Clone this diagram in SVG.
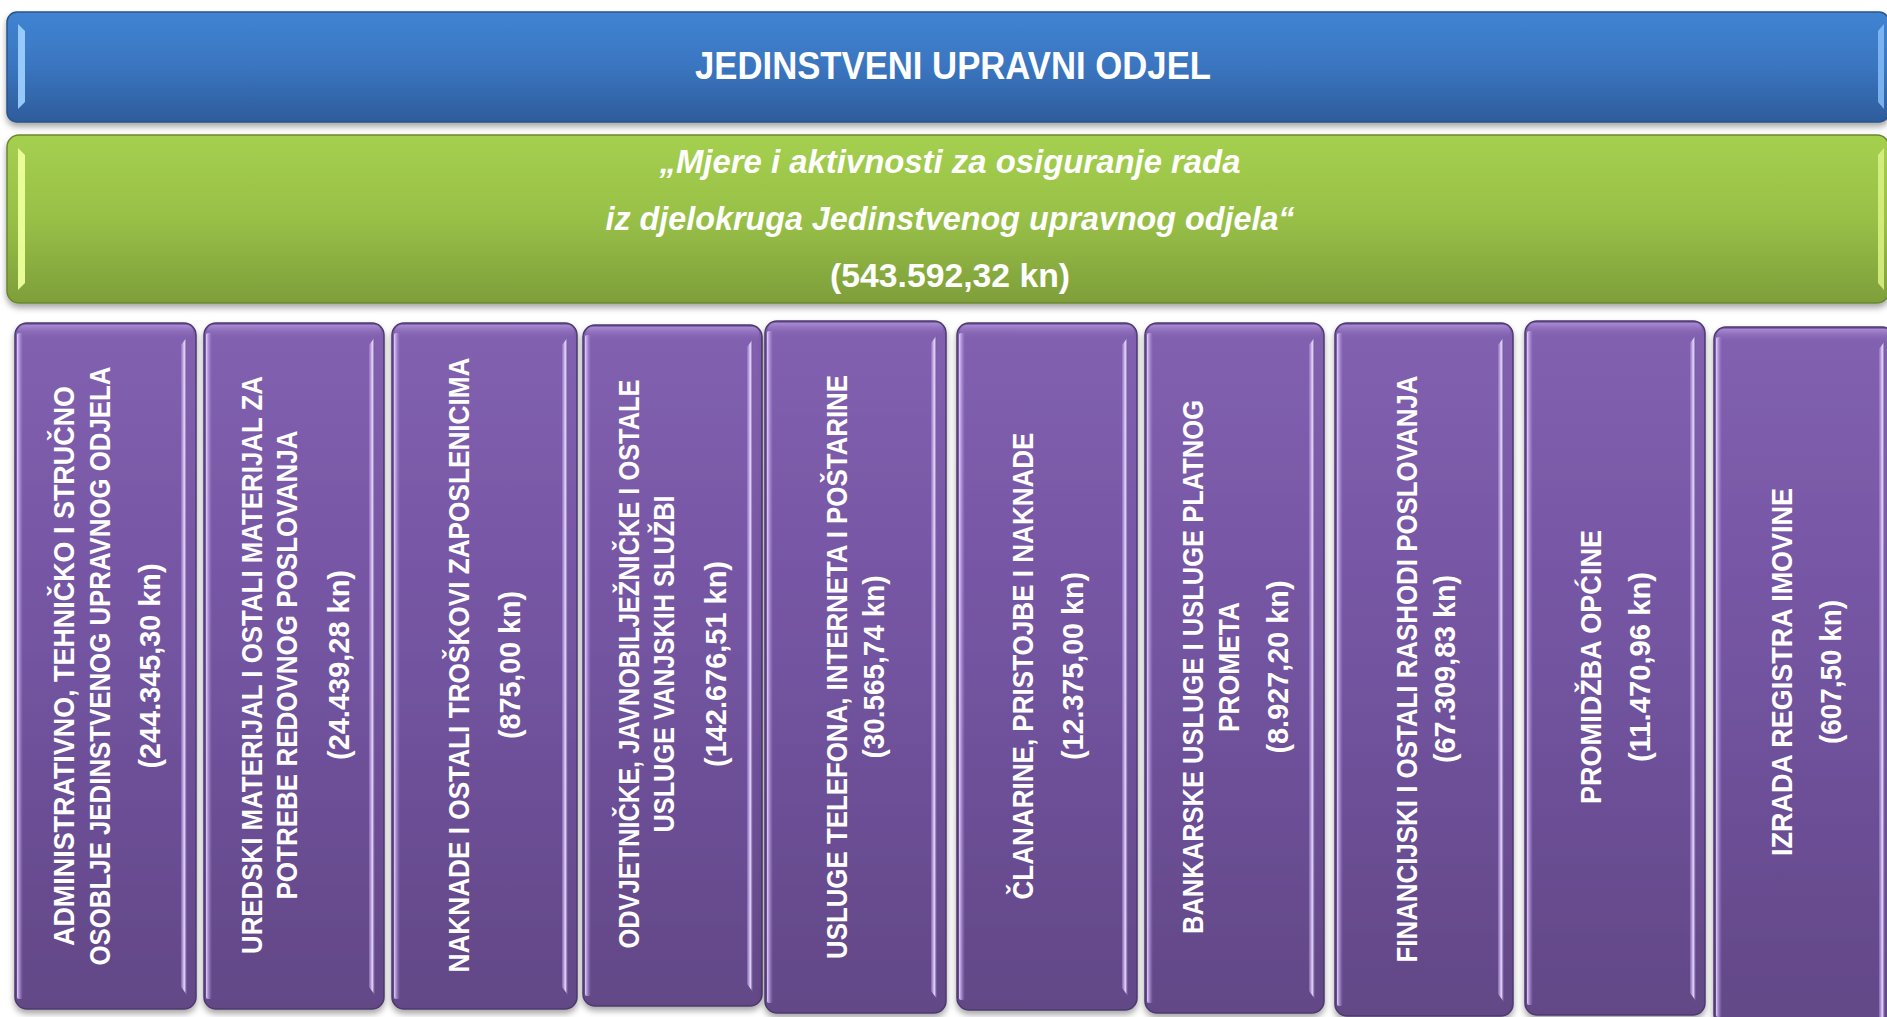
<svg xmlns="http://www.w3.org/2000/svg" width="1887" height="1017" viewBox="0 0 1887 1017">
<defs>
<linearGradient id="gBlue" x1="0" y1="0" x2="0" y2="1">
<stop offset="0" stop-color="#4084D2"/><stop offset="0.5" stop-color="#3A75C0"/><stop offset="1" stop-color="#2E5C9A"/>
</linearGradient>
<linearGradient id="gGreen" x1="0" y1="0" x2="0" y2="1">
<stop offset="0" stop-color="#A5D04F"/><stop offset="0.5" stop-color="#98C047"/><stop offset="1" stop-color="#7E9E3A"/>
</linearGradient>
<linearGradient id="gPurple" x1="0" y1="0" x2="0" y2="1">
<stop offset="0" stop-color="#8261B0"/><stop offset="0.5" stop-color="#7253A0"/><stop offset="1" stop-color="#624886"/>
</linearGradient>
<linearGradient id="gHlL" x1="0" y1="0" x2="1" y2="0">
<stop offset="0" stop-color="#E4D0FF" stop-opacity="1"/><stop offset="1" stop-color="#B08CE0" stop-opacity="0"/>
</linearGradient>
<linearGradient id="gHlR" x1="0" y1="0" x2="1" y2="0">
<stop offset="0" stop-color="#A987DA" stop-opacity="0.5"/><stop offset="0.55" stop-color="#EADAFF" stop-opacity="1"/><stop offset="1" stop-color="#5E4588" stop-opacity="0.7"/>
</linearGradient>
<linearGradient id="gTop" x1="0" y1="0" x2="0" y2="1">
<stop offset="0" stop-color="#C8AEEE" stop-opacity="0.55"/><stop offset="1" stop-color="#8261B0" stop-opacity="0"/>
</linearGradient>
<filter id="sh" x="-5%" y="-5%" width="110%" height="115%">
<feDropShadow dx="0" dy="4" stdDeviation="3" flood-color="#000" flood-opacity="0.35"/>
</filter>
</defs>
<style>
.bar-b{fill:url(#gBlue);stroke:#2A548C;stroke-width:1.5;filter:url(#sh)}
.bar-g{fill:url(#gGreen);stroke:#6A882F;stroke-width:1.5;filter:url(#sh)}
.pbox{fill:url(#gPurple);stroke:#4C3A6E;stroke-width:1.5;filter:url(#sh)}
.ptop{fill:url(#gTop)}
.hl-l{fill:url(#gHlL)}
.hl-r{fill:url(#gHlR)}
.t{font-family:"Liberation Sans",Arial,sans-serif;font-weight:bold;fill:#FFFFFF;text-anchor:middle}
.title{font-size:38px}
.gi{font-size:34px;font-style:italic}
.gn{font-size:34px}
.bt{font-size:29px}
</style>

<g id="node-title">
<rect class="bar-b" x="7" y="12" width="1882" height="110" rx="10"/>
<polygon points="18,24 25,31 25,102 18,109" fill="#9CCEFF" opacity="0.95"/>
<polygon points="1884,24 1878,31 1878,102 1884,109" fill="#86BDF7" opacity="0.85"/>
<text class="t title" x="953" y="79" textLength="516" lengthAdjust="spacingAndGlyphs">JEDINSTVENI UPRAVNI ODJEL</text>
</g>

<g id="node-program">
<rect class="bar-g" x="7" y="135" width="1882" height="168" rx="12"/>
<polygon points="18,148 25,155 25,283 18,290" fill="#EEFF9C" opacity="0.95"/>
<polygon points="1884,148 1878,155 1878,283 1884,290" fill="#DCF385" opacity="0.85"/>
<text class="t gi" x="950" y="173" textLength="581" lengthAdjust="spacingAndGlyphs">„Mjere i aktivnosti za osiguranje rada</text>
<text class="t gi" x="950" y="230" textLength="689" lengthAdjust="spacingAndGlyphs">iz djelokruga Jedinstvenog upravnog odjela“</text>
<text class="t gn" x="950" y="287" textLength="240" lengthAdjust="spacingAndGlyphs">(543.592,32 kn)</text>
</g>

<g id="node-a1">
<rect class="pbox" x="15" y="323" width="181" height="686" rx="12"/>
<rect class="ptop" x="18" y="325" width="175" height="14" rx="6"/>
<rect class="hl-l" x="17" y="333" width="6" height="666" rx="2"/>
<polygon class="hl-r" points="181,345 187,337 187,995 181,987"/>
<text class="t bt" transform="translate(74,666) rotate(-90)" textLength="560" lengthAdjust="spacingAndGlyphs">ADMINISTRATIVNO, TEHNIČKO I STRUČNO</text>
<text class="t bt" transform="translate(109.5,666) rotate(-90)" textLength="599" lengthAdjust="spacingAndGlyphs">OSOBLJE JEDINSTVENOG UPRAVNOG ODJELA</text>
<text class="t bt" transform="translate(159.5,666) rotate(-90)" textLength="205" lengthAdjust="spacingAndGlyphs">(244.345,30 kn)</text>
</g>

<g id="node-a2">
<rect class="pbox" x="204" y="323" width="180" height="686" rx="12"/>
<rect class="ptop" x="207" y="325" width="174" height="14" rx="6"/>
<rect class="hl-l" x="206" y="333" width="6" height="666" rx="2"/>
<polygon class="hl-r" points="369,345 375,337 375,995 369,987"/>
<text class="t bt" transform="translate(261.5,665) rotate(-90)" textLength="578" lengthAdjust="spacingAndGlyphs">UREDSKI MATERIJAL I OSTALI MATERIJAL ZA</text>
<text class="t bt" transform="translate(296.5,665) rotate(-90)" textLength="469" lengthAdjust="spacingAndGlyphs">POTREBE REDOVNOG POSLOVANJA</text>
<text class="t bt" transform="translate(348.5,665) rotate(-90)" textLength="190" lengthAdjust="spacingAndGlyphs">(24.439,28 kn)</text>
</g>

<g id="node-a3">
<rect class="pbox" x="392" y="323" width="185" height="686" rx="12"/>
<rect class="ptop" x="395" y="325" width="179" height="14" rx="6"/>
<rect class="hl-l" x="394" y="333" width="6" height="666" rx="2"/>
<polygon class="hl-r" points="562,345 568,337 568,995 562,987"/>
<text class="t bt" transform="translate(468.5,665) rotate(-90)" textLength="615" lengthAdjust="spacingAndGlyphs">NAKNADE I OSTALI TROŠKOVI ZAPOSLENICIMA</text>
<text class="t bt" transform="translate(519.5,665) rotate(-90)" textLength="148" lengthAdjust="spacingAndGlyphs">(875,00 kn)</text>
</g>

<g id="node-a4">
<rect class="pbox" x="583" y="325" width="179" height="681" rx="12"/>
<rect class="ptop" x="586" y="327" width="173" height="14" rx="6"/>
<rect class="hl-l" x="585" y="335" width="6" height="661" rx="2"/>
<polygon class="hl-r" points="747,347 753,339 753,992 747,984"/>
<text class="t bt" transform="translate(638.5,664) rotate(-90)" textLength="569" lengthAdjust="spacingAndGlyphs">ODVJETNIČKE, JAVNOBILJEŽNIČKE I OSTALE</text>
<text class="t bt" transform="translate(674,664) rotate(-90)" textLength="337" lengthAdjust="spacingAndGlyphs">USLUGE VANJSKIH SLUŽBI</text>
<text class="t bt" transform="translate(725.5,664) rotate(-90)" textLength="206" lengthAdjust="spacingAndGlyphs">(142.676,51 kn)</text>
</g>

<g id="node-a5">
<rect class="pbox" x="765" y="321" width="181" height="692" rx="12"/>
<rect class="ptop" x="768" y="323" width="175" height="14" rx="6"/>
<rect class="hl-l" x="767" y="331" width="6" height="672" rx="2"/>
<polygon class="hl-r" points="931,343 937,335 937,999 931,991"/>
<text class="t bt" transform="translate(847,667) rotate(-90)" textLength="584" lengthAdjust="spacingAndGlyphs">USLUGE TELEFONA, INTERNETA I POŠTARINE</text>
<text class="t bt" transform="translate(883.5,667) rotate(-90)" textLength="183" lengthAdjust="spacingAndGlyphs">(30.565,74 kn)</text>
</g>

<g id="node-a6">
<rect class="pbox" x="957" y="323" width="180" height="687" rx="12"/>
<rect class="ptop" x="960" y="325" width="174" height="14" rx="6"/>
<rect class="hl-l" x="959" y="333" width="6" height="667" rx="2"/>
<polygon class="hl-r" points="1122,345 1128,337 1128,996 1122,988"/>
<text class="t bt" transform="translate(1032.5,666) rotate(-90)" textLength="467" lengthAdjust="spacingAndGlyphs">ČLANARINE, PRISTOJBE I NAKNADE</text>
<text class="t bt" transform="translate(1082.5,666) rotate(-90)" textLength="188" lengthAdjust="spacingAndGlyphs">(12.375,00 kn)</text>
</g>

<g id="node-a7">
<rect class="pbox" x="1145" y="323" width="179" height="690" rx="12"/>
<rect class="ptop" x="1148" y="325" width="173" height="14" rx="6"/>
<rect class="hl-l" x="1147" y="333" width="6" height="670" rx="2"/>
<polygon class="hl-r" points="1309,345 1315,337 1315,999 1309,991"/>
<text class="t bt" transform="translate(1202.5,667) rotate(-90)" textLength="534" lengthAdjust="spacingAndGlyphs">BANKARSKE USLUGE I USLUGE PLATNOG</text>
<text class="t bt" transform="translate(1238.5,667) rotate(-90)" textLength="130" lengthAdjust="spacingAndGlyphs">PROMETA</text>
<text class="t bt" transform="translate(1287.5,667) rotate(-90)" textLength="173" lengthAdjust="spacingAndGlyphs">(8.927,20 kn)</text>
</g>

<g id="node-a8">
<rect class="pbox" x="1335" y="323" width="178" height="693" rx="12"/>
<rect class="ptop" x="1338" y="325" width="172" height="14" rx="6"/>
<rect class="hl-l" x="1337" y="333" width="6" height="673" rx="2"/>
<polygon class="hl-r" points="1498,345 1504,337 1504,1002 1498,994"/>
<text class="t bt" transform="translate(1416.5,669) rotate(-90)" textLength="587" lengthAdjust="spacingAndGlyphs">FINANCIJSKI I OSTALI RASHODI POSLOVANJA</text>
<text class="t bt" transform="translate(1455,669) rotate(-90)" textLength="188" lengthAdjust="spacingAndGlyphs">(67.309,83 kn)</text>
</g>

<g id="node-a9">
<rect class="pbox" x="1525" y="321" width="180" height="694" rx="12"/>
<rect class="ptop" x="1528" y="323" width="174" height="14" rx="6"/>
<rect class="hl-l" x="1527" y="331" width="6" height="674" rx="2"/>
<polygon class="hl-r" points="1690,343 1696,335 1696,1001 1690,993"/>
<text class="t bt" transform="translate(1601,667) rotate(-90)" textLength="274" lengthAdjust="spacingAndGlyphs">PROMIDŽBA OPĆINE</text>
<text class="t bt" transform="translate(1649.5,667) rotate(-90)" textLength="190" lengthAdjust="spacingAndGlyphs">(11.470,96 kn)</text>
</g>

<g id="node-a10">
<rect class="pbox" x="1714" y="327" width="180" height="700" rx="12"/>
<rect class="ptop" x="1717" y="329" width="174" height="14" rx="6"/>
<rect class="hl-l" x="1716" y="337" width="6" height="680" rx="2"/>
<polygon class="hl-r" points="1879,349 1885,341 1885,1017 1879,1017"/>
<text class="t bt" transform="translate(1791.5,672) rotate(-90)" textLength="368" lengthAdjust="spacingAndGlyphs">IZRADA REGISTRA IMOVINE</text>
<text class="t bt" transform="translate(1840.5,672) rotate(-90)" textLength="144" lengthAdjust="spacingAndGlyphs">(607,50 kn)</text>
</g>

<g id="connectors"/>
</svg>
